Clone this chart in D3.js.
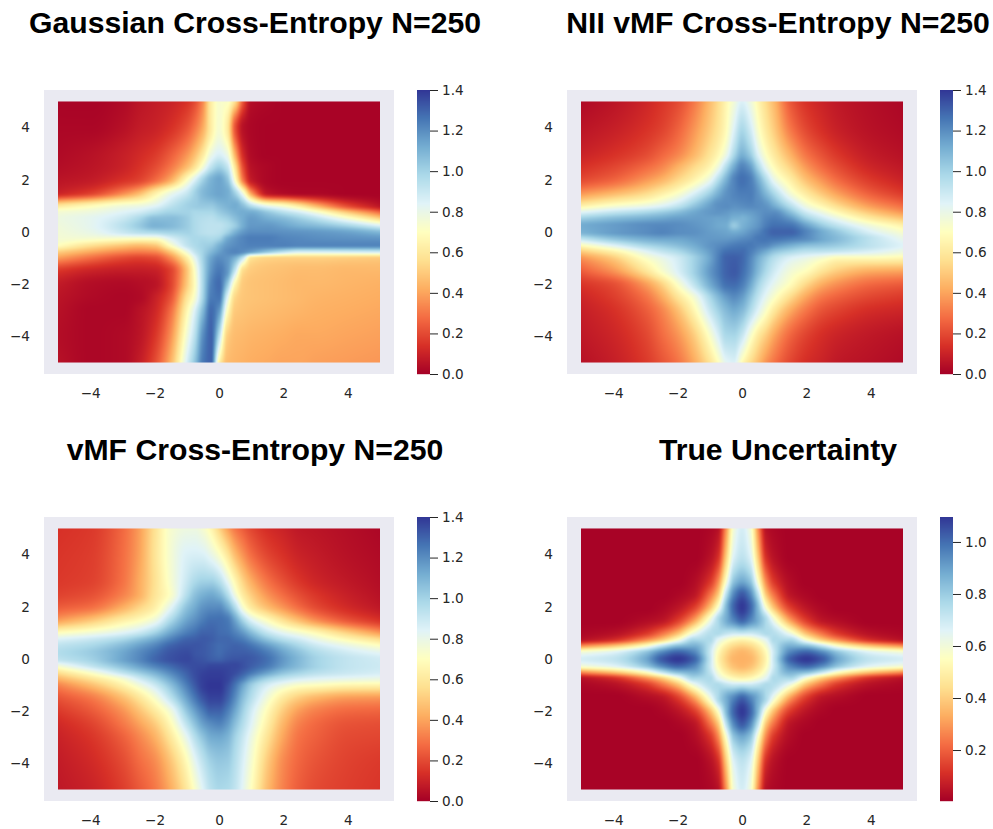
<!DOCTYPE html>
<html><head><meta charset="utf-8">
<script src="https://cdnjs.cloudflare.com/ajax/libs/d3/7.8.5/d3.min.js"></script>
<style>html,body{margin:0;padding:0;background:#fff}svg{display:block}</style>
</head><body><svg id="fig" width="993" height="829"></svg>
<script>
const titles = ["Gaussian Cross-Entropy N=250","NII vMF Cross-Entropy N=250","vMF Cross-Entropy N=250","True Uncertainty"];
const gridX = [-5,-4,-3,-2.5,-2,-1.5,-1,-.75,-.5,-.25,0,.25,.5,.75,1,1.5,2,2.5,3,4,5];
const gridY = [5,4,3,2.5,2,1.5,1,.75,.5,.25,0,-.25,-.5,-.75,-1,-1.5,-2,-2.5,-3,-4,-5];
const axisTicks = [-4,-2,0,2,4];
const barTicksA = [0,.2,.4,.6,.8,1,1.2,1.4];
const barTicksB = [.2,.4,.6,.8,1];
const barDomainA = [0,1.4];
const barDomainB = [.004,1.096];

const gaussianValues = [
[.01,.01,.03,.06,.08,.1,.14,.2,.34,.62,.73,.72,.56,.22,.04,.02,.01,.01,.01,.01,.01],
[.02,.02,.05,.08,.1,.14,.22,.3,.42,.62,.74,.62,.22,.05,.02,.01,.01,.01,.01,.01,.01],
[.03,.05,.09,.12,.16,.24,.36,.46,.6,.78,.85,.78,.42,.12,.03,.01,.01,.01,.01,.01,.01],
[.04,.06,.1,.14,.2,.3,.46,.58,.75,.92,1,.92,.58,.2,.05,.02,.01,.01,.01,.01,.01],
[.06,.08,.14,.18,.27,.42,.7,.85,1,1.1,1.14,1.06,.72,.3,.08,.02,.01,.01,.01,.01,.01],
[.1,.17,.33,.44,.62,.78,.9,1,1.08,1.12,1.14,1.12,1,.75,.38,.06,.03,.02,.02,.01,.01],
[.6,.68,.76,.78,.83,.93,1,1.02,1.03,1.03,1.07,1.1,1.12,1.06,.95,.8,.72,.6,.45,.2,.06],
[.75,.78,.84,.88,.95,1,1,.98,.98,.98,1.02,1.06,1.1,1.12,1.12,1.04,.95,.87,.76,.5,.28],
[.78,.82,.9,.98,1.07,1.07,1.02,.97,.95,.94,.97,1,1.06,1.12,1.16,1.12,1.08,1.02,.95,.76,.54],
[.77,.82,.94,1.02,1.1,1.08,1.02,.97,.94,.93,.93,.96,1.02,1.12,1.17,1.17,1.14,1.1,1.07,.98,.84],
[.76,.8,.9,.95,.98,1,1,.97,.94,.93,.94,1,1.1,1.17,1.2,1.2,1.19,1.18,1.17,1.14,1.08],
[.75,.74,.72,.71,.72,.85,.95,.98,.98,.97,1,1.12,1.18,1.22,1.24,1.24,1.22,1.21,1.2,1.19,1.18],
[.7,.58,.5,.47,.5,.72,.92,.97,1,1.02,1.1,1.17,1.2,1.22,1.23,1.23,1.23,1.22,1.22,1.22,1.22],
[.52,.42,.34,.32,.34,.5,.78,.92,1,1.08,1.15,1.2,1.22,1.2,1.16,1.05,.95,.88,.88,.89,.9],
[.38,.28,.2,.18,.2,.34,.62,.82,1,1.14,1.2,1.18,1.1,.9,.58,.53,.52,.52,.52,.51,.5],
[.15,.1,.08,.08,.09,.18,.48,.72,.98,1.18,1.25,1.18,.9,.55,.5,.48,.47,.46,.46,.45,.45],
[.08,.04,.03,.04,.06,.18,.5,.7,.98,1.22,1.28,1.05,.66,.5,.48,.47,.46,.45,.45,.44,.43],
[.06,.03,.02,.03,.09,.22,.58,.74,1,1.24,1.26,.86,.54,.49,.48,.47,.46,.45,.44,.43,.42],
[.05,.02,.02,.05,.11,.28,.66,.85,1.08,1.28,1.18,.72,.5,.48,.47,.46,.45,.44,.43,.42,.41],
[.04,.02,.03,.06,.15,.36,.76,.95,1.2,1.3,.95,.52,.46,.45,.44,.43,.42,.41,.41,.4,.39],
[.05,.02,.03,.08,.2,.44,.86,1.05,1.25,1.3,.65,.46,.44,.43,.42,.41,.4,.4,.39,.38,.37]];

const niiValues = [
[.03,.06,.11,.15,.2,.3,.46,.55,.66,.76,.85,.78,.66,.55,.45,.23,.14,.1,.07,.04,.02],
[.06,.09,.14,.18,.25,.36,.5,.58,.68,.84,.97,.88,.72,.6,.5,.3,.19,.13,.09,.05,.03],
[.1,.14,.2,.26,.33,.44,.58,.66,.78,.97,1.1,1.02,.84,.7,.6,.43,.29,.21,.15,.08,.05],
[.14,.19,.27,.33,.43,.54,.66,.77,.95,1.12,1.22,1.16,.98,.8,.68,.52,.37,.27,.2,.11,.07],
[.2,.26,.37,.44,.54,.65,.8,.95,1.1,1.22,1.27,1.24,1.12,.96,.8,.63,.47,.36,.27,.16,.1],
[.36,.44,.54,.62,.71,.84,1,1.1,1.18,1.22,1.24,1.24,1.18,1.08,.97,.75,.6,.48,.38,.24,.16],
[.64,.73,.79,.84,.92,1.04,1.15,1.19,1.2,1.19,1.2,1.21,1.2,1.18,1.12,.95,.77,.66,.55,.38,.28],
[.84,.92,.98,1.02,1.07,1.13,1.17,1.18,1.17,1.15,1.15,1.16,1.18,1.2,1.2,1.07,.89,.78,.67,.49,.37],
[1.02,1.08,1.12,1.14,1.16,1.16,1.15,1.14,1.14,1.1,1.1,1.13,1.17,1.22,1.24,1.18,1.02,.9,.8,.62,.5],
[1.12,1.16,1.2,1.21,1.2,1.18,1.15,1.13,1.12,1.03,1.1,1.14,1.18,1.24,1.27,1.26,1.15,1.02,.92,.76,.64],
[1.1,1.16,1.2,1.22,1.2,1.19,1.16,1.15,1.14,1.12,1.14,1.18,1.22,1.27,1.3,1.3,1.22,1.12,1.03,.85,.73],
[.93,1.05,1.12,1.14,1.14,1.16,1.17,1.17,1.17,1.18,1.2,1.22,1.25,1.26,1.26,1.24,1.2,1.13,1.07,.93,.8],
[.7,.85,.99,1.03,1.07,1.12,1.18,1.2,1.22,1.24,1.25,1.25,1.23,1.22,1.18,1.12,1.07,1.05,1.02,.93,.84],
[.5,.64,.83,.91,.97,1.06,1.16,1.22,1.27,1.28,1.28,1.24,1.18,1.12,1.05,.98,.93,.92,.9,.85,.78],
[.36,.5,.72,.8,.88,1,1.14,1.23,1.3,1.31,1.29,1.22,1.12,1.03,.95,.85,.8,.74,.68,.68,.66],
[.24,.36,.58,.72,.85,1,1.17,1.24,1.3,1.32,1.28,1.2,1.08,.97,.88,.76,.69,.58,.5,.42,.4],
[.15,.21,.38,.52,.72,.92,1.12,1.2,1.27,1.28,1.24,1.14,1,.89,.81,.69,.54,.42,.35,.27,.24],
[.11,.17,.29,.41,.58,.75,.98,1.08,1.16,1.2,1.16,1.05,.92,.81,.72,.55,.4,.3,.25,.19,.16],
[.09,.14,.24,.33,.47,.66,.9,1,1.08,1.12,1.08,.97,.84,.72,.6,.42,.3,.22,.18,.13,.11],
[.07,.11,.19,.27,.36,.5,.72,.85,.97,.98,.9,.74,.6,.5,.4,.26,.18,.13,.1,.07,.05],
[.05,.09,.16,.22,.29,.41,.58,.69,.82,.85,.68,.56,.46,.36,.29,.19,.13,.1,.07,.05,.03]];

const vmfValues = [
[.14,.16,.27,.38,.57,.74,.78,.78,.74,.66,.53,.4,.3,.24,.19,.13,.1,.07,.06,.04,.02],
[.15,.17,.28,.39,.58,.75,.85,.86,.85,.8,.72,.6,.46,.36,.28,.19,.14,.1,.08,.05,.03],
[.16,.18,.29,.41,.57,.74,.9,.97,1,1,.95,.82,.66,.52,.42,.29,.21,.15,.11,.07,.04],
[.18,.21,.32,.42,.58,.72,.95,1.05,1.1,1.12,1.08,.96,.76,.6,.5,.36,.27,.2,.15,.09,.05],
[.24,.28,.42,.52,.63,.82,1.05,1.12,1.18,1.2,1.2,1.12,.95,.73,.6,.46,.36,.27,.2,.12,.07],
[.38,.48,.62,.68,.77,.97,1.14,1.19,1.24,1.27,1.27,1.25,1.14,.98,.84,.69,.56,.45,.35,.22,.14],
[.7,.76,.84,.9,1,1.14,1.24,1.27,1.3,1.3,1.28,1.27,1.23,1.17,1.08,.92,.82,.75,.68,.52,.38],
[.85,.9,.98,1.05,1.13,1.23,1.3,1.31,1.32,1.31,1.29,1.29,1.27,1.24,1.18,1.05,.95,.88,.8,.67,.56],
[.93,.98,1.08,1.15,1.22,1.3,1.33,1.33,1.32,1.3,1.28,1.29,1.3,1.29,1.26,1.17,1.07,.98,.9,.8,.71],
[.96,1.02,1.13,1.2,1.27,1.33,1.35,1.33,1.32,1.3,1.28,1.3,1.31,1.31,1.3,1.24,1.14,1.05,.97,.88,.82],
[.93,1,1.14,1.21,1.29,1.34,1.36,1.34,1.33,1.31,1.3,1.32,1.33,1.33,1.32,1.27,1.17,1.08,1,.92,.88],
[.76,.92,1.07,1.15,1.23,1.29,1.34,1.35,1.35,1.36,1.36,1.36,1.36,1.34,1.31,1.25,1.15,1.07,1,.92,.89],
[.58,.74,.94,1.03,1.12,1.22,1.31,1.35,1.37,1.38,1.38,1.37,1.35,1.31,1.26,1.16,1.06,1,.95,.9,.87],
[.44,.58,.75,.88,1,1.14,1.28,1.34,1.38,1.39,1.39,1.37,1.31,1.24,1.14,1,.92,.87,.84,.81,.79],
[.33,.46,.64,.76,.89,1.06,1.24,1.32,1.38,1.4,1.4,1.35,1.26,1.14,1.02,.87,.78,.72,.7,.66,.65],
[.22,.3,.46,.58,.73,.93,1.15,1.25,1.33,1.37,1.37,1.31,1.2,1.06,.95,.76,.6,.5,.44,.38,.37],
[.16,.23,.36,.47,.6,.77,1.04,1.15,1.24,1.3,1.3,1.24,1.13,1,.88,.68,.5,.38,.32,.27,.26],
[.12,.18,.3,.39,.5,.68,.93,1.05,1.15,1.2,1.22,1.17,1.06,.95,.84,.63,.44,.32,.27,.22,.21],
[.1,.15,.25,.33,.43,.6,.82,.95,1.05,1.12,1.13,1.1,1,.9,.79,.58,.4,.29,.25,.2,.19],
[.08,.12,.2,.27,.34,.48,.68,.81,.92,1,1.03,1.02,.95,.85,.74,.5,.34,.26,.22,.18,.16],
[.07,.1,.17,.23,.3,.42,.6,.72,.84,.94,.98,.97,.92,.82,.7,.46,.32,.24,.2,.17,.15]];

const trueValues = [
[.01,.01,.01,.01,.01,.01,.02,.04,.28,.6,.68,.6,.28,.04,.02,.01,.01,.01,.01,.01,.01],
[.01,.01,.01,.01,.01,.01,.04,.1,.38,.66,.72,.66,.38,.1,.04,.01,.01,.01,.01,.01,.01],
[.01,.01,.01,.01,.01,.03,.12,.26,.56,.82,.88,.82,.56,.26,.12,.03,.01,.01,.01,.01,.01],
[.01,.01,.01,.01,.02,.05,.22,.38,.72,.95,1.03,.95,.72,.38,.22,.05,.02,.01,.01,.01,.01],
[.01,.01,.01,.02,.05,.13,.36,.56,.84,1.02,1.09,1.02,.84,.56,.36,.13,.05,.02,.01,.01,.01],
[.01,.01,.03,.05,.13,.3,.6,.76,.87,.96,1.02,.96,.87,.76,.6,.3,.13,.05,.03,.01,.01],
[.02,.04,.12,.22,.36,.6,.74,.76,.73,.71,.72,.71,.73,.76,.74,.6,.36,.22,.12,.04,.02],
[.04,.1,.26,.38,.56,.76,.76,.66,.59,.54,.52,.54,.59,.66,.76,.76,.56,.38,.26,.1,.04],
[.28,.38,.56,.72,.84,.87,.73,.59,.49,.43,.41,.43,.49,.59,.73,.87,.84,.72,.56,.38,.28],
[.6,.66,.82,.95,1.02,.96,.71,.54,.43,.37,.35,.37,.43,.54,.71,.96,1.02,.95,.82,.66,.6],
[.68,.72,.88,1.03,1.09,1.02,.72,.52,.41,.35,.34,.35,.41,.52,.72,1.02,1.09,1.03,.88,.72,.68],
[.6,.66,.82,.95,1.02,.96,.71,.54,.43,.37,.35,.37,.43,.54,.71,.96,1.02,.95,.82,.66,.6],
[.28,.38,.56,.72,.84,.87,.73,.59,.49,.43,.41,.43,.49,.59,.73,.87,.84,.72,.56,.38,.28],
[.04,.1,.26,.38,.56,.76,.76,.66,.59,.54,.52,.54,.59,.66,.76,.76,.56,.38,.26,.1,.04],
[.02,.04,.12,.22,.36,.6,.74,.76,.73,.71,.72,.71,.73,.76,.74,.6,.36,.22,.12,.04,.02],
[.01,.01,.03,.05,.13,.3,.6,.76,.87,.96,1.02,.96,.87,.76,.6,.3,.13,.05,.03,.01,.01],
[.01,.01,.01,.02,.05,.13,.36,.56,.84,1.02,1.09,1.02,.84,.56,.36,.13,.05,.02,.01,.01,.01],
[.01,.01,.01,.01,.02,.05,.22,.38,.72,.95,1.03,.95,.72,.38,.22,.05,.02,.01,.01,.01,.01],
[.01,.01,.01,.01,.01,.03,.12,.26,.56,.82,.88,.82,.56,.26,.12,.03,.01,.01,.01,.01,.01],
[.01,.01,.01,.01,.01,.01,.04,.1,.38,.66,.72,.66,.38,.1,.04,.01,.01,.01,.01,.01,.01],
[.01,.01,.01,.01,.01,.01,.02,.04,.28,.6,.68,.6,.28,.04,.02,.01,.01,.01,.01,.01,.01]];

const seriesValues = [gaussianValues, niiValues, vmfValues, trueValues];
const barDomains = [barDomainA, barDomainA, barDomainA, barDomainB];
const barTicks = [barTicksA, barTicksA, barTicksA, barTicksB];

const colLeft = [44, 567], rowTop = [90, 517];
const axW = 350, axH = 284, cbGap = 23, cbW = 13;
const titleCx = [255, 778], titleBase = [33, 460];
const xHalf = 5.435, yHalf = 5.44;
const tickFont = 13.6;

// smooth resampling between the picture-read grid nodes (monotone cubic Hermite)
function slopes(xs, v) {
  const n = xs.length, d = new Array(n-1), m = new Array(n);
  for (let i=0;i<n-1;i++) d[i] = (v[i+1]-v[i])/(xs[i+1]-xs[i]);
  m[0]=d[0]; m[n-1]=d[n-2];
  for (let i=1;i<n-1;i++) {
    if (d[i-1]*d[i]<=0) m[i]=0;
    else { const h0=xs[i]-xs[i-1],h1=xs[i+1]-xs[i]; m[i]=3*(h0+h1)/((h0+2*h1)/d[i-1]+(2*h0+h1)/d[i]); }
  }
  return m;
}
function hermite(xs, v, m, x) {
  let i = d3.bisectRight(xs, x)-1; i = Math.max(0, Math.min(xs.length-2, i));
  const h=xs[i+1]-xs[i], t=(x-xs[i])/h, t2=t*t, t3=t2*t;
  return (2*t3-3*t2+1)*v[i]+(t3-2*t2+t)*h*m[i]+(-2*t3+3*t2)*v[i+1]+(t3-t2)*h*m[i+1];
}
const svg = d3.select("#fig");
const ascY = gridY.slice().reverse();

seriesValues.forEach((rows, k) => {
  const c = k%2, r = k>>1, L = colLeft[c], T = rowTop[r];
  const x = d3.scaleLinear().domain([-xHalf,xHalf]).range([L,L+axW]);
  const y = d3.scaleLinear().domain([-yHalf,yHalf]).range([T+axH,T]);
  const [lo,hi] = barDomains[k];
  const color = d3.scaleLinear().domain(d3.range(11).map(i=>lo+(hi-lo)*i/10)).range(d3.schemeRdYlBu[11]).clamp(true);
  svg.append("rect").attr("x",L).attr("y",T).attr("width",axW).attr("height",axH).attr("fill","#eaeaf2");

  const x0=x(-5), x1=x(5), y0=y(5), y1=y(-5);
  const W=Math.round(x1-x0), H=Math.round(y1-y0);
  const cv=document.createElement("canvas"); cv.width=W; cv.height=H;
  const ctx=cv.getContext("2d"), img=ctx.createImageData(W,H);
  const rowSl = rows.map(v=>slopes(gridX,v));
  for (let px=0;px<W;px++) {
    const dx = x.invert(x0+(px+.5)*(x1-x0)/W);
    const col = rows.map((v,i)=>hermite(gridX,v,rowSl[i],dx)).reverse();
    const m = slopes(ascY,col);
    for (let py=0;py<H;py++) {
      const dy = y.invert(y0+(py+.5)*(y1-y0)/H);
      const c3 = d3.rgb(color(hermite(ascY,col,m,dy)));
      const o=(py*W+px)*4;
      img.data[o]=c3.r; img.data[o+1]=c3.g; img.data[o+2]=c3.b; img.data[o+3]=255;
    }
  }
  ctx.putImageData(img,0,0);
  svg.append("image").attr("x",x0).attr("y",y0).attr("width",x1-x0).attr("height",y1-y0)
    .attr("preserveAspectRatio","none").attr("href",cv.toDataURL());

  const gx = svg.append("g").attr("transform",`translate(0,${T+axH})`)
    .call(d3.axisBottom(x).tickValues(axisTicks).tickSize(0).tickPadding(14));
  const gy = svg.append("g").attr("transform",`translate(${L},0)`)
    .call(d3.axisLeft(y).tickValues(axisTicks).tickSize(0).tickPadding(14));
  [gx,gy].forEach(g=>{g.select(".domain").remove();
    g.selectAll("text").attr("font-family","'DejaVu Sans'").attr("font-size",tickFont).attr("fill","#262626");});

  // colour bar
  const cbX = L+axW+cbGap;
  const cy = d3.scaleLinear().domain([lo,hi]).range([T+axH,T]);
  svg.append("g").selectAll("rect").data(d3.range(axH)).join("rect")
    .attr("x",cbX).attr("y",d=>T+d).attr("width",cbW).attr("height",1.2)
    .attr("fill",d=>color(cy.invert(T+d+.5)));
  const gc = svg.append("g").attr("transform",`translate(${cbX+cbW},0)`)
    .call(d3.axisRight(cy).tickValues(barTicks[k]).tickFormat(d3.format(".1f")).tickSize(8).tickPadding(4));
  gc.select(".domain").remove();
  gc.selectAll("line").attr("stroke","#262626").attr("stroke-width",1);
  gc.selectAll("text").attr("font-family","'DejaVu Sans'").attr("font-size",tickFont).attr("fill","#262626");

  svg.append("text").attr("x",titleCx[c]).attr("y",titleBase[r]).attr("text-anchor","middle")
    .attr("font-family","'Liberation Sans'").attr("font-weight","bold").attr("font-size",30.2)
    .attr("fill","#000").text(titles[k]);
});
</script></body></html>
